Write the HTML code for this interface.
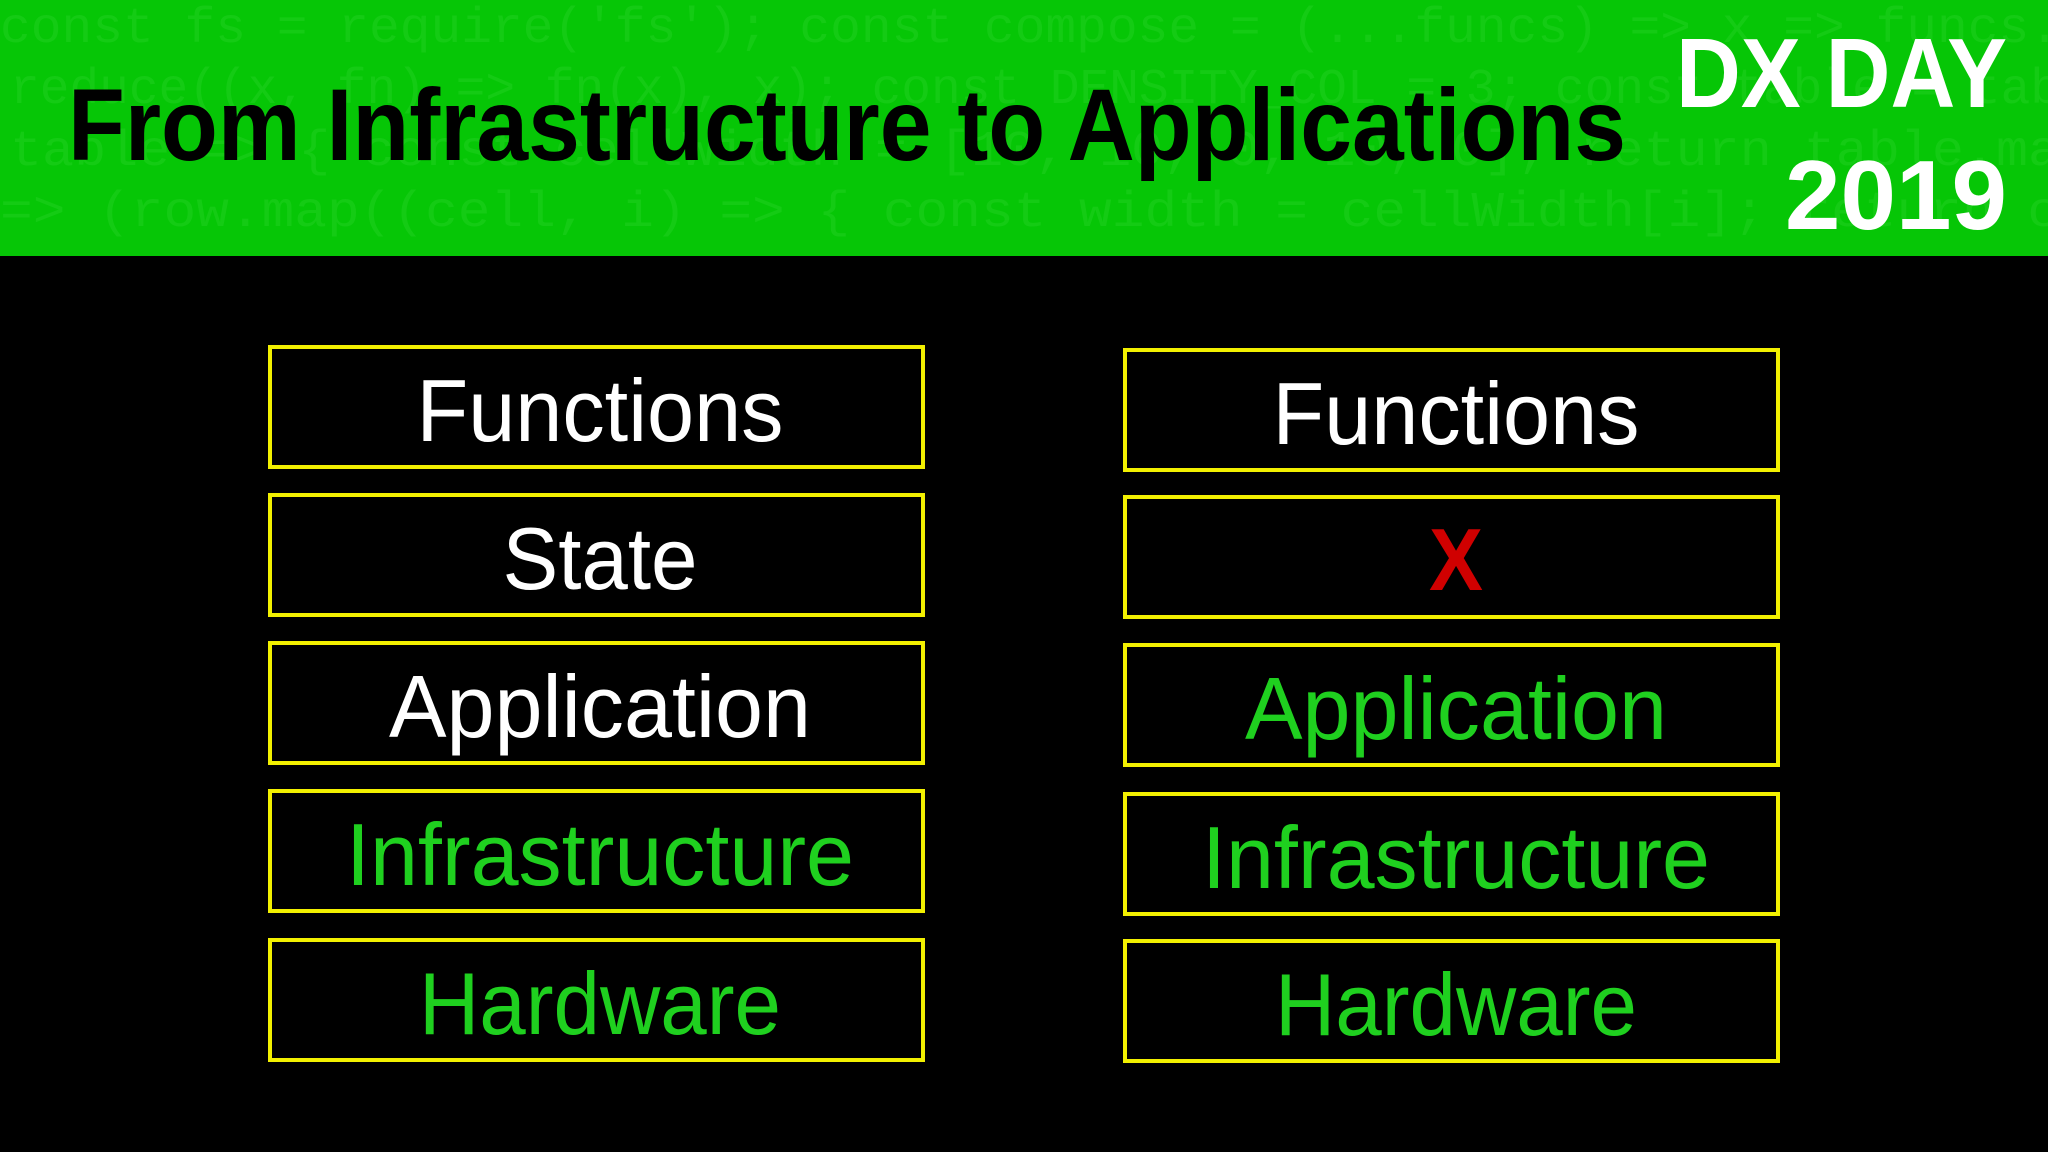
<!DOCTYPE html>
<html><head><meta charset="utf-8"><style>
html,body{margin:0;padding:0;background:#000;width:2048px;height:1152px;overflow:hidden}
svg{display:block}
</style></head><body>
<svg width="2048" height="1152" viewBox="0 0 2048 1152" xmlns="http://www.w3.org/2000/svg">
<rect x="0" y="0" width="2048" height="1152" fill="#000"/>
<rect x="0" y="0" width="2048" height="256" fill="#06c606"/>
<g font-family="Liberation Mono, monospace" font-size="50" fill="#22d022" opacity="0.5">
<text x="0" y="42" textLength="2060" lengthAdjust="spacingAndGlyphs">const fs = require('fs'); const compose = (...funcs) =&gt; x =&gt; funcs.</text>
<text x="10" y="103" textLength="2050" lengthAdjust="spacingAndGlyphs">reduce((x, fn) =&gt; fn(x), x); const DENSITY_COL = 3; const table = tab</text>
<text x="10" y="165" textLength="2050" lengthAdjust="spacingAndGlyphs">table =&gt; { const cellWidth = [10, 10, 0, 10, 0]; return table.ma</text>
<text x="0" y="226" textLength="2060" lengthAdjust="spacingAndGlyphs">=&gt; (row.map((cell, i) =&gt; { const width = cellWidth[i]; return c</text>
</g>
<text x="68" y="160" font-family="Liberation Sans, sans-serif" font-weight="bold" font-size="102" fill="#000" textLength="1558" lengthAdjust="spacingAndGlyphs">From Infrastructure to Applications</text>
<g font-family="Liberation Sans, sans-serif" font-weight="bold" font-size="98" fill="#fff" text-anchor="end">
<text x="2007" y="107" textLength="331" lengthAdjust="spacingAndGlyphs">DX DAY</text>
<text x="2007" y="229" textLength="222" lengthAdjust="spacingAndGlyphs">2019</text>
</g>
<g fill="none" stroke="#f2f000" stroke-width="4">
<rect x="270" y="347" width="653" height="120"/>
<rect x="270" y="495" width="653" height="120"/>
<rect x="270" y="643" width="653" height="120"/>
<rect x="270" y="791" width="653" height="120"/>
<rect x="270" y="940" width="653" height="120"/>
<rect x="1125" y="350" width="653" height="120"/>
<rect x="1125" y="497" width="653" height="120"/>
<rect x="1125" y="645" width="653" height="120"/>
<rect x="1125" y="794" width="653" height="120"/>
<rect x="1125" y="941" width="653" height="120"/>
</g>
<g font-family="Liberation Sans, sans-serif" font-size="88" text-anchor="middle">
<text x="600" y="441" fill="#fff" textLength="367" lengthAdjust="spacingAndGlyphs">Functions</text>
<text x="600" y="589" fill="#fff" textLength="195" lengthAdjust="spacingAndGlyphs">State</text>
<text x="600" y="737" fill="#fff" textLength="422" lengthAdjust="spacingAndGlyphs">Application</text>
<text x="600" y="885" fill="#1fd01f" textLength="508" lengthAdjust="spacingAndGlyphs">Infrastructure</text>
<text x="600" y="1034" fill="#1fd01f" textLength="362" lengthAdjust="spacingAndGlyphs">Hardware</text>
<text x="1456" y="444" fill="#fff" textLength="367" lengthAdjust="spacingAndGlyphs">Functions</text>
<text x="1456" y="590" fill="#d00000" font-weight="bold" textLength="54" lengthAdjust="spacingAndGlyphs">X</text>
<text x="1456" y="739" fill="#1fd01f" textLength="422" lengthAdjust="spacingAndGlyphs">Application</text>
<text x="1456" y="888" fill="#1fd01f" textLength="508" lengthAdjust="spacingAndGlyphs">Infrastructure</text>
<text x="1456" y="1035" fill="#1fd01f" textLength="362" lengthAdjust="spacingAndGlyphs">Hardware</text>
</g>
</svg>
</body></html>
